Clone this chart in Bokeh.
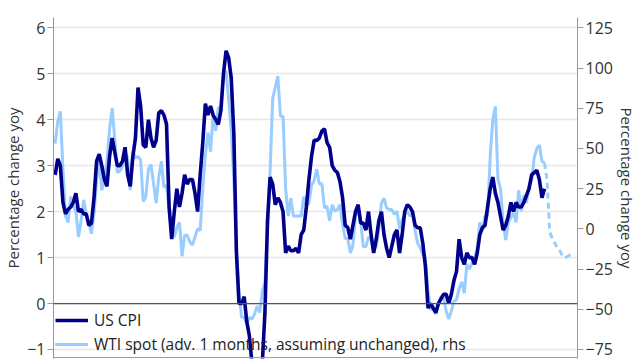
from bokeh.plotting import figure
from bokeh.models import Range1d, LinearAxis, Span, Legend, LegendItem, FixedTicker
from bokeh.embed import file_html
from bokeh.resources import INLINE

# ---------------- data (monthly, starting Jan 2003) ----------------
start_year = 2003

# US CPI, % yoy (Jan 2003 .. Oct 2018)
cpi = [
    2.8, 3.15, 3.0, 2.2, 1.95, 2.05, 2.1, 2.2, 2.4, 2.0, 2.05, 1.95,      # 2003
    1.95, 1.7, 1.75, 2.3, 3.1, 3.25, 3.0, 2.7, 2.55, 3.2, 3.6, 3.3,       # 2004
    3.0, 3.0, 3.1, 3.4, 2.8, 2.55, 3.2, 3.6, 4.7, 4.3, 3.45, 3.4,         # 2005
    4.0, 3.6, 3.4, 3.55, 4.15, 4.2, 4.1, 3.9, 2.1, 1.4, 2.0, 2.5,         # 2006
    2.1, 2.4, 2.8, 2.6, 2.7, 2.7, 2.4, 2.0, 2.8, 3.5, 4.35, 4.1,          # 2007
    4.3, 4.1, 4.0, 3.9, 4.2, 5.0, 5.5, 5.35, 4.9, 3.7, 1.1, 0.0,          # 2008
    0.0, 0.15, -0.4, -0.7, -1.3, -1.4, -2.1, -1.5, -1.3, -0.2, 1.8, 2.75, # 2009
    2.6, 2.15, 2.3, 2.2, 2.0, 1.1, 1.25, 1.15, 1.15, 1.2, 1.1, 1.5,       # 2010
    1.6, 2.1, 2.7, 3.2, 3.55, 3.55, 3.6, 3.75, 3.8, 3.5, 3.4, 3.0,        # 2011
    2.9, 2.85, 2.65, 2.3, 1.7, 1.65, 1.4, 1.7, 2.0, 2.15, 1.75, 1.75,     # 2012
    1.6, 2.0, 1.5, 1.1, 1.4, 1.8, 2.0, 1.5, 1.2, 1.0, 1.25, 1.5,          # 2013
    1.6, 1.1, 1.5, 2.0, 2.15, 2.1, 2.0, 1.7, 1.65, 1.65, 1.3, 0.8,        # 2014
    -0.1, 0.0, -0.1, -0.2, 0.0, 0.1, 0.2, 0.2, 0.0, 0.2, 0.5, 0.7,        # 2015
    1.4, 1.0, 0.85, 1.1, 1.0, 1.0, 0.85, 1.1, 1.5, 1.65, 1.7, 2.1,        # 2016
    2.5, 2.75, 2.4, 2.2, 1.9, 1.6, 1.7, 1.9, 2.2, 2.0, 2.2, 2.1,          # 2017
    2.1, 2.2, 2.35, 2.5, 2.8, 2.85, 2.9, 2.7, 2.3, 2.5,                   # 2018
]

# WTI spot, % yoy, advanced 1 month (Jan 2003 .. Oct 2018), rhs
wti = [
    53, 67, 73, 37, 8, 4, 20, 15, 11, -5, 5, 18,            # 2003
    9, 4, -3, 9, 30, 43, 24, 32, 42, 62, 75, 56,            # 2004
    35, 36, 39, 48, 44, 24, 48, 44, 45, 43, 17, 20,         # 2005
    37, 40, 28, 16, 32, 42, 26, 27, 12, -3, -5, 1,          # 2006
    4, -17, -4, -4, -8, -10, -5, 0, -1, 25, 46, 60,         # 2007
    48, 71, 61, 75, 76, 97, 98, 80, 61, 30, -11, -40,       # 2008
    -55, -55, -59, -55, -56, -53, -48, -52, -39, -33, -1, 36,  # 2009
    81, 88, 95, 70, 70, 25, 8, 19, 8, 8, 8, 8,              # 2010
    20, 14, 16, 27, 30, 37, 28, 28, 13, 14, 5, 15,          # 2011
    11, 12, 15, 3, -6, -6, -15, -10, 9, 11, 4, -11,         # 2012
    -11, -5, -7, -13, -11, 0, 16, 19, 13, 12, 12, 9,        # 2013
    11, 0, 6, 9, 11, 8, 10, -1, -9, -12, -16, -19,          # 2014
    -39, -50, -50, -53, -47, -42, -43, -51, -56, -51, -45, -44,  # 2015
    -37, -33, -40, -22, -25, -21, -18, -12, 4, -1, 8, 8,    # 2016
    45, 68, 76, 31, 25, 4, -7, 4, 7, 10, 4, 24,             # 2017
    11, 21, 16, 27, 30, 44, 50, 52, 42, 41,                 # 2018
]

# WTI projection assuming unchanged price (Oct 2018 .. Sep 2019), rhs
wti_proj = [41, 30, -2, -6, -9, -12, -14, -17, -18, -17, -16, -15]

left_ticks = [-1, 0, 1, 2, 3, 4, 5, 6]
right_ticks = [-75, -50, -25, 0, 25, 50, 75, 100, 125]

# ---------------- derived x positions ----------------
x_cpi = [start_year + i / 12 for i in range(len(cpi))]
x_wti = [start_year + i / 12 for i in range(len(wti))]
proj_start = len(wti) - 1
x_proj = [start_year + (proj_start + i) / 12 for i in range(len(wti_proj))]

FONT = "Open Sans"
NAVY = "#00008B"
LIGHT = "#99CCFF"
TXT = "#333333"

y_lo, y_hi = -1.196, 6.224
r_lo = -75 + (200 / 7) * (y_lo + 1)
r_hi = -75 + (200 / 7) * (y_hi + 1)

p = figure(width=640, height=360, output_backend="svg", toolbar_location=None,
           x_range=Range1d(2002.946, 2019.81), y_range=Range1d(y_lo, y_hi),
           min_border_left=50, min_border_right=63, min_border_top=17,
           min_border_bottom=2)
p.extra_y_ranges = {"rhs": Range1d(r_lo, r_hi)}
p.outline_line_color = None
p.background_fill_color = "white"
p.border_fill_color = "white"

p.xgrid.visible = False
p.ygrid.grid_line_color = "#e6e6e6"
p.ygrid.grid_line_width = 1.3
p.ygrid.ticker = FixedTicker(ticks=left_ticks)

# x axis is cropped away in the reference: only its base line is visible
p.xaxis.visible = False
p.add_layout(Span(location=y_lo + 0.02, dimension="width", line_color="#999999",
                  line_width=1))

# left axis
ya = p.yaxis[0]
ya.ticker = FixedTicker(ticks=left_ticks)
ya.axis_label = "Percentage change yoy"

ra = LinearAxis(y_range_name="rhs", ticker=FixedTicker(ticks=right_ticks),
                axis_label="Percentage change yoy")
p.add_layout(ra, "right")

for ax in [ya, ra]:
    ax.axis_line_color = "#999999"
    ax.major_tick_line_color = "#999999"
    ax.minor_tick_line_color = None
    ax.major_tick_out = 6
    ax.major_tick_in = 0
    ax.major_label_standoff = 2
    ax.major_label_text_font = FONT
    ax.major_label_text_font_size = "16px"
    ax.major_label_text_color = TXT
    ax.axis_label_text_font = FONT
    ax.axis_label_text_font_size = "15px"
    ax.axis_label_text_font_style = "normal"
    ax.axis_label_text_color = TXT
    ax.axis_label_standoff = 1

p.add_layout(Span(location=0, dimension="width", line_color="#555555", line_width=1.2))

r_wti = p.line(x_wti, wti, y_range_name="rhs", line_color=LIGHT, line_width=3)
r_proj = p.line(x_proj, wti_proj, y_range_name="rhs", line_color=LIGHT, line_width=3,
                line_dash="6 4")
r_cpi = p.line(x_cpi, cpi, line_color=NAVY, line_width=3.6)

legend = Legend(items=[
    LegendItem(label="US CPI", renderers=[r_cpi]),
    LegendItem(label="WTI spot (adv. 1 months, assuming unchanged), rhs",
               renderers=[r_wti, r_proj]),
], location=(2, 3))
legend.background_fill_alpha = 0
legend.border_line_color = None
legend.label_text_font = FONT
legend.label_text_font_size = "15.5px"
legend.label_text_color = "#222222"
legend.glyph_width = 33
legend.glyph_height = 20
legend.label_height = 20
legend.spacing = 2
legend.padding = 0
legend.margin = 0
legend.label_standoff = 6
p.add_layout(legend)

open("out.html", "w").write(file_html(p, INLINE))
